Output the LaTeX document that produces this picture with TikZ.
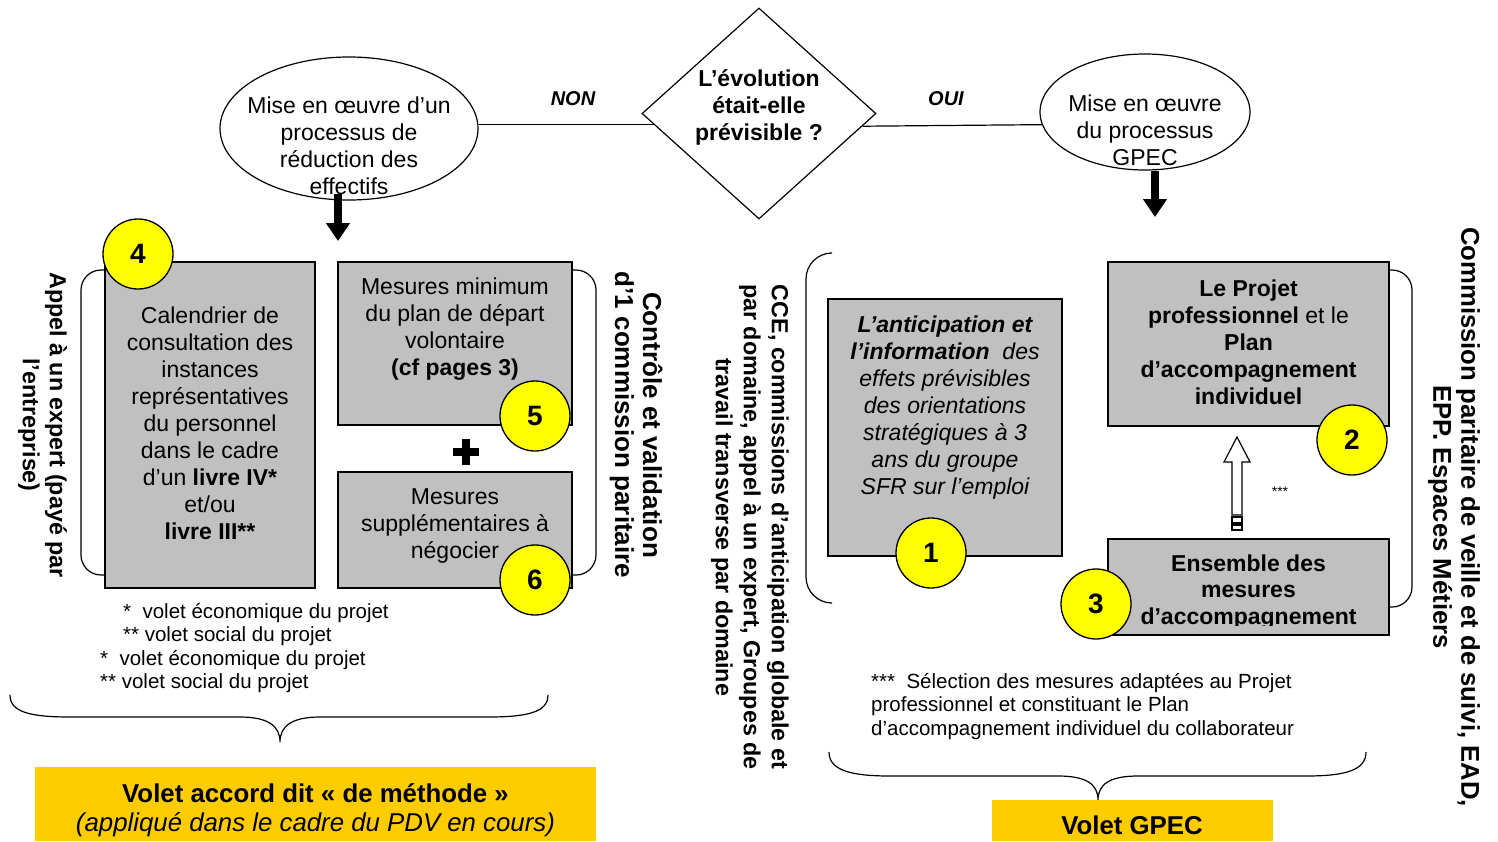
\documentclass[tikz,border=0pt]{standalone}
\usepackage{fontspec}
\setmainfont{Liberation Sans}
\usetikzlibrary{shapes.geometric,arrows.meta}
\definecolor{boxgray}{HTML}{C0C0C0}
\definecolor{numyellow}{HTML}{FFFF00}
\definecolor{gold}{HTML}{FFCC00}
\begin{document}
\begin{tikzpicture}[x=1pt,y=-1pt,
  graybox/.style={rectangle, draw=black, line width=1.4pt, fill=boxgray, inner sep=0pt},
  numdisc/.style={circle, draw=black, line width=1.3pt, fill=numyellow, minimum size=70pt, inner sep=0pt, font=\fontsize{28}{30}\selectfont\bfseries},
  txt/.style={align=center, inner sep=0pt, yshift=-2.5pt, font=\fontsize{23}{27}\selectfont},
  btxt/.style={align=center, inner sep=0pt, yshift=-2.5pt, font=\fontsize{23}{27}\selectfont\bfseries},
  rottxt/.style={align=center, inner sep=0pt, rotate=-90},
  note/.style={align=left, inner sep=0pt, anchor=west, yshift=-2pt, font=\fontsize{20.5}{23.5}\selectfont},
  label/.style={inner sep=0pt, font=\fontsize{20}{22}\selectfont\bfseries\itshape},
  outline/.style={draw=black, line width=1.2pt},
  bigarrow/.style={line width=8pt, -{Triangle[width=23pt,length=18pt]}},
  bracket/.style={draw=black, line width=1.2pt},
  goldbox/.style={rectangle, fill=gold, inner sep=0pt}
]
\useasboundingbox (0,0) rectangle (1498,841);

% ---- top: decision and processes
\node[diamond, outline, minimum width=234pt, minimum height=211pt, inner sep=0pt] (dia) at (759,113.5) {};
\node[btxt] (diatext) at (759,104.5) {L’évolution\\était-elle\\prévisible ?};

\node[ellipse, outline, minimum width=258pt, minimum height=143pt, inner sep=0pt] (lell) at (349,128.5) {};
\node[txt] (lelltext) at (349,143.5) {Mise en œuvre d’un\\processus de\\réduction des\\effectifs};

\node[ellipse, outline, minimum width=210pt, minimum height=116pt, inner sep=0pt] (rell) at (1145,112) {};
\node[txt] (relltext) at (1145,127.5) {Mise en œuvre\\du processus\\GPEC};

\draw[line width=1.2pt] (dia.186.3) -- (dia.186.3 -| lell.east);
\draw[line width=1.2pt] (dia.353.7) -- (rell.187.2);
\node[label] (non) at (573,99) {NON};
\node[label] (oui) at (946,99) {OUI};

\coordinate (la1) at (338,194);
\coordinate (la2) at (338,241);
\draw[bigarrow] (la1) -- (la2);
\coordinate (ra1) at (1155,171);
\coordinate (ra2) at (1155,217);
\draw[bigarrow] (ra1) -- (ra2);

% ---- left group
\draw[bracket, rounded corners=20pt] (105,270) -- (81,270) -- (81,575) -- (105,575);
\draw[bracket, rounded corners=20pt] (572,270) -- (596,270) -- (596,575) -- (572,575);

\node[graybox, minimum width=210pt, minimum height=326pt] (b4) at (210,425) {};
\node[txt] (b4text) at (210,420.5) {Calendrier de\\consultation des\\instances\\représentatives\\du personnel\\dans le cadre\\d’un \textbf{livre IV*}\\et/ou\\\textbf{livre III**}};

\node[graybox, minimum width=234pt, minimum height=163pt] (b5) at (455,343.5) {};
\node[txt] (b5text) at (455,326.5) {Mesures minimum\\du plan de départ\\volontaire\\\textbf{(cf pages 3)}};

\node[graybox, minimum width=234pt, minimum height=116pt] (b6) at (455,530) {};
\node[txt] (b6text) at (455,523) {Mesures\\supplémentaires à\\négocier};

\coordinate (plus) at (466,452);
\draw[line width=8pt] ([xshift=-13pt]plus) -- ([xshift=13pt]plus);
\draw[line width=8pt] ([yshift=-13pt]plus) -- ([yshift=13pt]plus);

\node[numdisc] (n4) at (138,254) {4};
\node[numdisc] (n5) at (535,416) {5};
\node[numdisc] (n6) at (535,580) {6};

\node[rottxt, font=\fontsize{23.3}{27}\selectfont\bfseries] (appel) at (42.5,425) {Appel à un expert (payé par\\l’entreprise)};
\node[rottxt, font=\fontsize{26}{28}\selectfont\bfseries] (controle) at (636,425) {Contrôle et validation\\d’1 commission paritaire};

\node[note] (f1) at (123,611) {*\ \ volet économique du projet};
\node[note] (f2) at (123,634) {** volet social du projet};
\node[note] (f3) at (100,658) {*\ \ volet économique du projet};
\node[note] (f4) at (100,681) {** volet social du projet};

\draw[bracket] (10,695) .. controls (10,712) and (30,717) .. (70,717) -- (240,717)
  .. controls (268,717) and (280,726) .. (280,742)
  .. controls (280,726) and (292,717) .. (320,717) -- (488,717)
  .. controls (528,717) and (548,712) .. (548,695);

\node[goldbox, minimum width=561pt, minimum height=74pt] (ygold) at (315.5,804) {};
\node[align=center, inner sep=0pt, font=\fontsize{25.8}{29}\selectfont] (ygoldtext) at (315.5,810) {\textbf{Volet accord dit « de méthode »}\\\textit{(appliqué dans le cadre du PDV en cours)}};

% ---- right group
\node[rottxt, font=\fontsize{23.3}{28}\selectfont\bfseries] (cce) at (750,527) {CCE, commissions d’anticipation globale et\\par domaine, appel à un expert, Groupes de\\travail transverse par domaine};

\draw[bracket, rounded corners=26pt] (830,253) -- (806,253) -- (806,603) -- (830,603);
\draw[bracket, rounded corners=20pt] (1389,270) -- (1412,270) -- (1412,607) -- (1389,607);

\node[graybox, minimum width=234pt, minimum height=257pt] (b1) at (945,427.5) {};
\node[txt, font=\fontsize{23}{27}\selectfont\itshape] (b1text) at (945,405) {\textbf{L’anticipation et}\\\textbf{l’information}~ des\\effets prévisibles\\des orientations\\stratégiques à 3\\ans du groupe\\SFR sur l’emploi};

\node[graybox, minimum width=281pt, minimum height=164pt] (b2) at (1248.5,344) {};
\node[btxt] (b2text) at (1248.5,340) {Le Projet\\professionnel \textmd{et le}\\Plan\\d’accompagnement\\individuel};

\node[graybox, minimum width=281pt, minimum height=96pt] (b3) at (1248.5,587) {};
\begin{scope}
\clip (1108,539) rectangle (1389,625);
\node[btxt, font=\fontsize{23}{26.5}\selectfont\bfseries] (b3text) at (1248.5,589.5) {Ensemble des\\mesures\\d’accompagnement};
\end{scope}

\coordinate (hatip) at (1237,437);
\draw[line width=1.2pt, fill=white] (hatip) -- ++(13,25) -- ++(-8,0) -- ++(0,53) -- ++(-10,0) -- ++(0,-53) -- ++(-8,0) -- cycle;
\draw[line width=1.2pt] (1232,517) rectangle (1242,523);
\draw[line width=1.2pt] (1232,525) rectangle (1242,530);
\node[inner sep=0pt, font=\fontsize{14}{16}\selectfont] (stars) at (1280,492) {***};

\node[numdisc] (n1) at (931,553) {1};
\node[numdisc] (n2) at (1352,440) {2};
\node[numdisc] (n3) at (1096,604) {3};

\node[rottxt, font=\fontsize{25.7}{28}\selectfont\bfseries] (commission) at (1454,517) {Commission paritaire de veille et de suivi, EAD,\\EPP. Espaces Métiers};

\node[note] (f5) at (871,704.5) {***\ \ Sélection des mesures adaptées au Projet\\professionnel et constituant le Plan\\d’accompagnement individuel du collaborateur};

\draw[bracket] (829,752) .. controls (829,770) and (850,776) .. (890,776) -- (1058,776)
  .. controls (1086,776) and (1098,784) .. (1098,800)
  .. controls (1098,784) and (1110,776) .. (1138,776) -- (1306,776)
  .. controls (1346,776) and (1366,770) .. (1366,752);

\node[goldbox, minimum width=281pt, minimum height=41pt] (ggold) at (1132.5,820.5) {};
\node[inner sep=0pt, font=\fontsize{25.8}{29}\selectfont\bfseries] (ggoldtext) at (1132,825) {Volet GPEC};
\end{tikzpicture}
\end{document}
